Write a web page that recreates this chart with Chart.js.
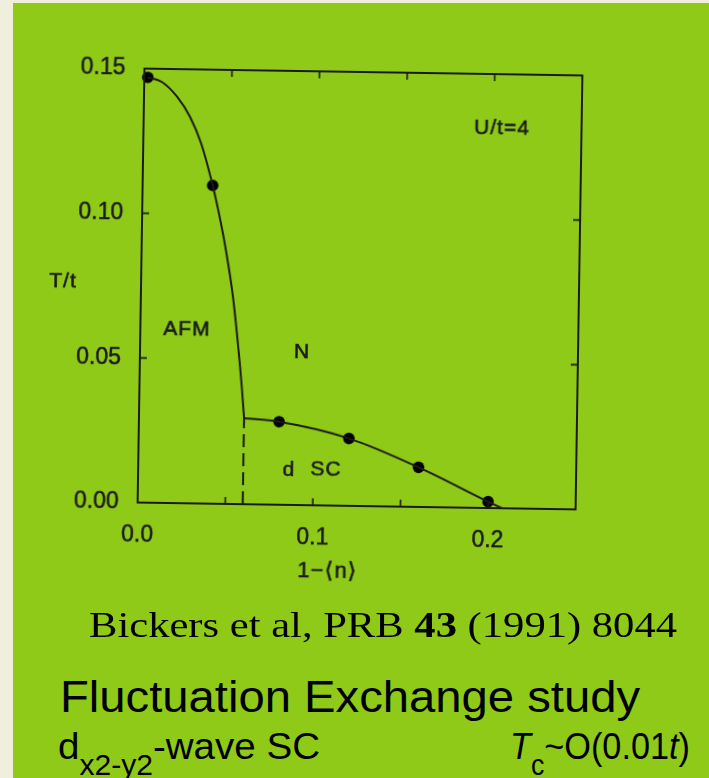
<!DOCTYPE html>
<html>
<head>
<meta charset="utf-8">
<script src="https://cdn.jsdelivr.net/npm/chart.js@4.4.1/dist/chart.umd.min.js"></script>
<style>
  html, body { margin:0; padding:0; width:709px; height:778px; overflow:hidden; background:#f0eedc; }
  #panel { position:absolute; left:13px; top:3px; width:696px; height:775px; background:#8fca18; }
  #chartWrap { position:absolute; left:0; top:0; width:709px; height:600px;
    transform: rotate(0.9deg); transform-origin: 360px 289px; }
  .t { position:absolute; white-space:nowrap; line-height:1; color:#000; transform-origin:0 0; }
  .serif { font-family:"Liberation Serif","Times New Roman",serif; }
  .sans { font-family:"Liberation Sans",Arial,sans-serif; }
  .sub { font-size:0.78em; vertical-align:-0.55em; }
</style>
</head>
<body>
<div id="panel"></div>
<div id="chartWrap"><canvas id="c" width="709" height="600"></canvas></div>

<div id="l1" class="t serif" style="font-size:36px">Bickers et al, PRB <b>43</b> (1991) 8044</div>
<div id="l2" class="t sans" style="font-size:44px">Fluctuation Exchange study</div>
<div id="l3a" class="t sans" style="font-size:37px">d<span class="sub">x2-y2</span>-wave SC</div>
<div id="l3b" class="t sans" style="font-size:37px"><i>T</i><span class="sub">c</span>~O(0.01<i>t</i>)</div>

<script>
// ---- data (x = 1-<n>, y = T/t) ----
const afmBoundaryX = [0.002, 0.010, 0.0188, 0.0265, 0.033, 0.040, 0.0445, 0.0485, 0.0526, 0.056, 0.0585, 0.060];
const afmBoundaryT = [0.147, 0.1455, 0.1405, 0.1335, 0.1245, 0.110, 0.0985, 0.0865, 0.0715, 0.0545, 0.040, 0.0297];
const scBoundaryX  = [0.060, 0.080, 0.120, 0.160, 0.200, 0.208];
const scBoundaryT  = [0.0297, 0.0287, 0.0233, 0.0137, 0.0022, 0.000];
const dotX = [0.002, 0.040, 0.080, 0.120, 0.160, 0.200];
const dotT = [0.147, 0.110, 0.0287, 0.0233, 0.0137, 0.0022];
const dashX = [0.060, 0.060];
const dashT = [0.000, 0.0297];
const xLabelled = [0.0, 0.1, 0.2];
const yTickLabels = ["0.00", "0.05", "0.10", "0.15"];
const regionLabels = ["AFM", "N", "d", "SC", "U/t=4"];
const regionX = [0.0266, 0.0925, 0.0861, 0.1072, 0.2046];
const regionT = [0.0600, 0.0529, 0.0121, 0.0122, 0.1314];

const pts = (xs, ys) => xs.map((x, i) => ({x, y: ys[i]}));
const INK = '#1a1a1a';
const FONT = '"Liberation Sans", Arial, sans-serif';

const framePlugin = {
  id: 'frame',
  afterDraw(chart) {
    const {ctx, chartArea: a, scales: {x, y}} = chart;
    ctx.save();
    ctx.strokeStyle = INK;
    ctx.lineWidth = 2;
    ctx.strokeRect(a.left, a.top, a.right - a.left, a.bottom - a.top);
    ctx.lineWidth = 1.6;
    const L = 7;
    ctx.beginPath();
    [0.05, 0.10].forEach(v => {
      const py = y.getPixelForValue(v);
      ctx.moveTo(a.left, py); ctx.lineTo(a.left + L, py);
      ctx.moveTo(a.right, py); ctx.lineTo(a.right - L, py);
    });
    [0.05, 0.10, 0.15, 0.20].forEach(v => {
      const px = x.getPixelForValue(v);
      ctx.moveTo(px, a.bottom); ctx.lineTo(px, a.bottom - L);
      ctx.moveTo(px, a.top); ctx.lineTo(px, a.top + L);
    });
    ctx.stroke();
    // region labels and axis titles
    ctx.fillStyle = INK;
    ctx.strokeStyle = INK;
    ctx.lineWidth = 0.6;
    ctx.font = '21px ' + FONT;
    if ('letterSpacing' in ctx) ctx.letterSpacing = '1px';
    ctx.textAlign = 'center';
    ctx.textBaseline = 'middle';
    const txt = (s, px, py) => { ctx.fillText(s, px, py); ctx.strokeText(s, px, py); };
    regionLabels.forEach((s, i) => {
      txt(s, x.getPixelForValue(regionX[i]), y.getPixelForValue(regionT[i]));
    });
    txt('T/t', a.left - 78, y.getPixelForValue(0.0761));
    ctx.font = '22px ' + FONT;
    txt('1\u2212\u27E8n\u27E9', x.getPixelForValue(0.109), a.bottom + 66);
    ctx.restore();
  }
};

new Chart(document.getElementById('c'), {
  type: 'scatter',
  data: {
    datasets: [
      { data: pts(afmBoundaryX, afmBoundaryT), showLine: true, borderColor: INK, borderWidth: 2,
        pointRadius: 0, cubicInterpolationMode: 'monotone', clip: false },
      { data: pts(scBoundaryX, scBoundaryT), showLine: true, borderColor: INK, borderWidth: 2,
        pointRadius: 0, cubicInterpolationMode: 'monotone', clip: false },
      { data: pts(dashX, dashT), showLine: true, borderColor: INK, borderWidth: 2,
        borderDash: [13, 6], pointRadius: 0 },
      { data: pts(dotX, dotT), showLine: false, pointRadius: 5.8, pointBackgroundColor: '#000',
        pointBorderColor: '#000', pointBorderWidth: 0, clip: false }
    ]
  },
  options: {
    responsive: false,
    animation: false,
    devicePixelRatio: 1,
    layout: { padding: { left: 41, top: 72, right: 130, bottom: 34 } },
    plugins: { legend: { display: false }, tooltip: { enabled: false } },
    scales: {
      x: {
        type: 'linear', min: 0, max: 0.25,
        grid: { display: false, drawTicks: false },
        border: { display: false },
        afterFit: s => { s.height = 60; },
        afterBuildTicks: s => { s.ticks = [0, 0.05, 0.1, 0.15, 0.2, 0.25].map(v => ({value: v})); },
        ticks: {
          padding: 19, color: INK, font: { family: FONT, size: 23 }, maxRotation: 0,
          textStrokeColor: INK, textStrokeWidth: 0.5,
          callback: v => xLabelled.some(l => Math.abs(l - v) < 1e-9) ? v.toFixed(1) : ''
        }
      },
      y: {
        type: 'linear', min: 0, max: 0.15,
        grid: { display: false, drawTicks: false },
        border: { display: false },
        afterFit: s => { s.width = 100; },
        afterBuildTicks: s => { s.ticks = [0, 0.05, 0.10, 0.15].map(v => ({value: v})); },
        ticks: {
          padding: 19, color: INK, font: { family: FONT, size: 23 },
          textStrokeColor: INK, textStrokeWidth: 0.5,
          callback: (v, i) => yTickLabels[i]
        }
      }
    }
  },
  plugins: [framePlugin]
});

// ---- slide caption text placement ----
function place(id, left, baseline, width, ascFrac) {
  const el = document.getElementById(id);
  const fs = parseFloat(el.style.fontSize);
  el.style.left = left + 'px';
  el.style.top = (baseline - ascFrac * fs) + 'px';
  const w = el.getBoundingClientRect().width;
  el.style.transform = 'scaleX(' + (width / w) + ')';
}
place('l1', 89, 637, 588, 0.8375);
place('l2', 60, 712, 580, 0.8465);
place('l3a', 58, 759, 262, 0.8465);
place('l3b', 510, 759, 180, 0.8465);
</script>
</body>
</html>
